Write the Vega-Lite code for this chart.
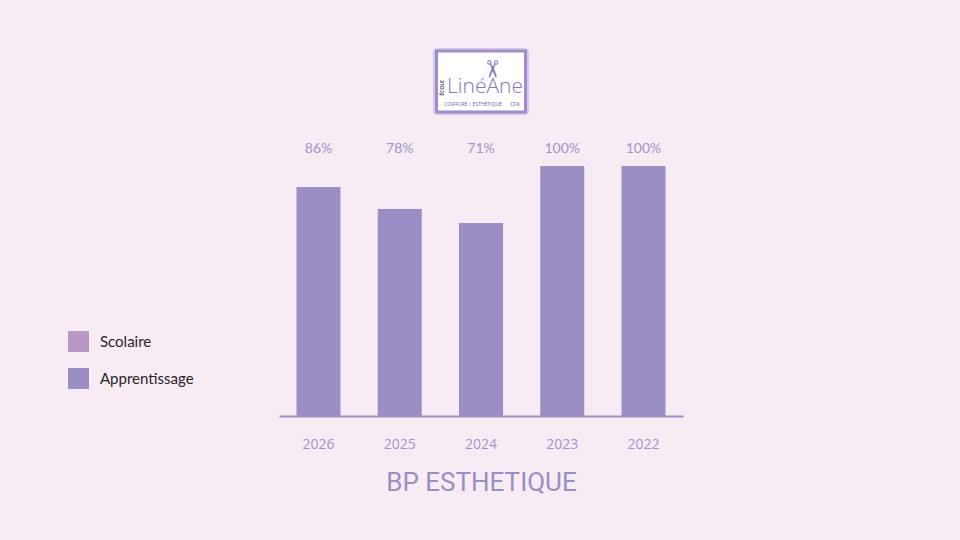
{
  "$schema": "https://vega.github.io/schema/vega-lite/v6.json",
  "autosize": {"type": "none"},
  "width": 404,
  "height": 250,
  "padding": {"left": 279, "top": 166, "right": 277, "bottom": 124},
  "background": "#F7ECF3",
  "config": {"view": {"stroke": null}},
  "datasets": {
    "bars": [
      {"year": "2026", "type": "Apprentissage", "value": 91.6},
      {"year": "2025", "type": "Apprentissage", "value": 82.8},
      {"year": "2024", "type": "Apprentissage", "value": 77.2},
      {"year": "2023", "type": "Apprentissage", "value": 100},
      {"year": "2022", "type": "Apprentissage", "value": 100},
      {"year": "2026", "type": "Scolaire", "value": 0},
      {"year": "2025", "type": "Scolaire", "value": 0},
      {"year": "2024", "type": "Scolaire", "value": 0},
      {"year": "2023", "type": "Scolaire", "value": 0},
      {"year": "2022", "type": "Scolaire", "value": 0}
    ],
    "rates": [
      {"year": "2026", "rate": "86%"},
      {"year": "2025", "rate": "78%"},
      {"year": "2024", "rate": "71%"},
      {"year": "2023", "rate": "100%"},
      {"year": "2022", "rate": "100%"}
    ],
    "logo": [{"name": "LinéAne", "tag": "COIFFURE | ESTHÉTIQUE", "cfa": "CFA", "ecole": "ÉCOLE", "icon": "✂"}]
  },
  "encoding": {
    "x": {
      "field": "year",
      "type": "nominal",
      "sort": ["2026", "2025", "2024", "2023", "2022"],
      "scale": {"domain": ["2026", "2025", "2024", "2023", "2022"], "paddingInner": 0.4585, "paddingOuter": 0.2154},
      "axis": {
        "labelAngle": 0,
        "ticks": false,
        "grid": false,
        "domainColor": "#9B8EC4",
        "domainWidth": 2,
        "labelFont": "Open Sans",
        "labelFontSize": 14,
        "labelColor": "#A294CB",
        "labelPadding": 21,
        "title": "BP ESTHETIQUE",
        "titleFont": "Roboto",
        "titleFontSize": 26,
        "titleFontWeight": "normal",
        "titleColor": "#9B8EC4",
        "titlePadding": 18
      }
    }
  },
  "layer": [
    {
      "data": {"name": "bars"},
      "mark": {"type": "bar"},
      "encoding": {
        "y": {"field": "value", "type": "quantitative", "stack": true, "scale": {"domain": [0, 100], "nice": false, "zero": true}, "axis": null},
        "color": {
          "field": "type",
          "type": "nominal",
          "scale": {"domain": ["Scolaire", "Apprentissage"], "range": ["#BA98C6", "#9B8EC4"]},
          "legend": {
            "orient": "none",
            "legendX": -211,
            "legendY": 165,
            "title": null,
            "symbolType": "square",
            "symbolSize": 440,
            "symbolStrokeWidth": 0,
            "symbolOpacity": 1,
            "labelFont": "Lato",
            "labelFontSize": 15,
            "labelColor": "#262626",
            "labelOffset": 11,
            "rowPadding": 16
          }
        }
      }
    },
    {
      "data": {"name": "rates"},
      "mark": {"type": "text", "font": "Lato", "fontSize": 14, "color": "#A294CB", "baseline": "middle", "dy": -17},
      "encoding": {
        "y": {"datum": 100, "type": "quantitative"},
        "text": {"field": "rate"}
      }
    },
    {
      "data": {"name": "logo"},
      "mark": {"type": "bar", "width": 96, "fill": "#B3A5D9", "opacity": 0.5, "cornerRadius": 5},
      "encoding": {
        "x": {"datum": "2024"},
        "y": {"datum": 147.2, "type": "quantitative"},
        "y2": {"datum": 120.4}
      }
    },
    {
      "data": {"name": "logo"},
      "mark": {"type": "bar", "width": 89, "fill": "#FFFFFF", "stroke": "#9C8ED0", "strokeWidth": 3},
      "encoding": {
        "x": {"datum": "2024"},
        "y": {"datum": 146, "type": "quantitative"},
        "y2": {"datum": 121.6}
      }
    },
    {
      "data": {"name": "logo"},
      "mark": {"type": "text", "font": "Open Sans", "fontWeight": 300, "fontSize": 21, "color": "#8676BE", "baseline": "middle", "dx": 4},
      "encoding": {
        "x": {"datum": "2024"},
        "y": {"datum": 131.6, "type": "quantitative"},
        "text": {"field": "name"}
      }
    },
    {
      "data": {"name": "logo"},
      "mark": {"type": "text", "font": "DejaVu Sans", "fontSize": 24, "color": "#8676BE", "baseline": "middle", "angle": 90, "dy": -10},
      "encoding": {
        "x": {"datum": "2024"},
        "y": {"datum": 138.8, "type": "quantitative"},
        "text": {"field": "icon"}
      }
    },
    {
      "data": {"name": "logo"},
      "mark": {"type": "text", "font": "Open Sans", "fontSize": 5, "color": "#6B5FA0", "baseline": "middle", "dx": -8},
      "encoding": {
        "x": {"datum": "2024"},
        "y": {"datum": 124.8, "type": "quantitative"},
        "text": {"field": "tag"}
      }
    },
    {
      "data": {"name": "logo"},
      "mark": {"type": "text", "font": "Open Sans", "fontSize": 5, "fontWeight": "bold", "color": "#9B8EC4", "baseline": "middle", "dx": 34},
      "encoding": {
        "x": {"datum": "2024"},
        "y": {"datum": 124.8, "type": "quantitative"},
        "text": {"field": "cfa"}
      }
    },
    {
      "data": {"name": "logo"},
      "mark": {"type": "text", "font": "Open Sans", "fontSize": 5, "fontWeight": "bold", "color": "#4B4B6B", "baseline": "middle", "angle": 270, "dy": -39},
      "encoding": {
        "x": {"datum": "2024"},
        "y": {"datum": 131.2, "type": "quantitative"},
        "text": {"field": "ecole"}
      }
    }
  ]
}
